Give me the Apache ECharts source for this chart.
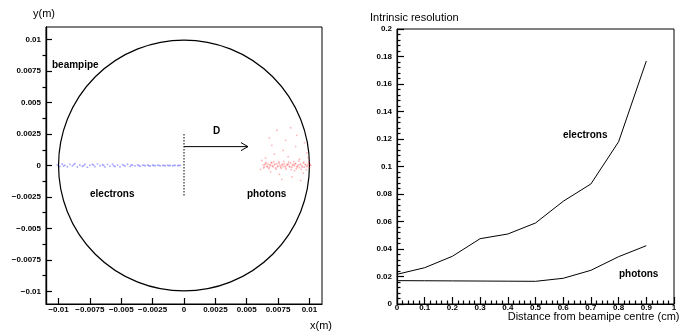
<!DOCTYPE html>
<html><head><meta charset="utf-8">
<script src="https://cdn.jsdelivr.net/npm/echarts@6/dist/echarts.min.js"></script>
<style>html,body{margin:0;padding:0;background:#fff}#c{width:690px;height:332px}</style>
</head><body><div id="c"></div>
<script>
// ---- left panel: beam-pipe cross section (metres) ----
const posTicks = [-0.01,-0.0075,-0.005,-0.0025,0,0.0025,0.005,0.0075,0.01];
const posTickLabels = ['\u22120.01','\u22120.0075','\u22120.005','\u22120.0025','0','0.0025','0.005','0.0075','0.01'];
const posMinorTicks = [-0.00875,-0.00625,-0.00375,-0.00125,0.00125,0.00375,0.00625,0.00875];
const beampipe = [[0,0,0.01]];          // centre x, centre y, radius
const markerD = [[0,0.0015,0.0051]];     // arrow start x, y, end x
const centreLine = [[0,0.0025],[0,-0.0025]];
const electronHits = [
[-0.0101,0.00005],[-0.0099,-0.00008],[-0.0097,0.00012],[-0.0095,0.00001],[-0.0093,-0.0001],[-0.0091,0.00009],
[-0.0089,-0.00003],[-0.0087,0.00014],[-0.0085,-0.00012],[-0.0083,0.00004],[-0.0081,-0.00006],[-0.0079,0.0001],
[-0.0077,-0.00013],[-0.0075,0.00002],[-0.0073,0.00008],[-0.0071,-0.00009],[-0.0069,0.00013],[-0.0067,-0.00002],
[-0.0065,0.00006],[-0.0063,-0.00011],[-0.0061,0.00009],[-0.0059,-0.00005],[-0.0057,0.00011],[-0.0055,-0.00008],
[-0.0053,0.00003],[-0.0051,-0.0001],[-0.0049,0.00007],[-0.0047,-0.00004],[-0.0045,0.0001],[-0.0043,-0.00007],
[-0.0041,0.00002],[-0.0039,-0.00003],[-0.0037,0.00005],[-0.0035,-0.00006],[-0.0033,0.00001],[-0.0031,-0.00002],
[-0.0029,0.00004],[-0.0027,-0.00004],[-0.0025,0.00002],[-0.0023,-0.00001],[-0.0021,0.00003],[-0.0019,-0.00003],
[-0.0017,0.00001],[-0.0015,-0.00002],[-0.0013,0.00002],[-0.0011,0],[-0.0009,-0.00001],[-0.0007,0.00001],
[-0.0005,0],[-0.0003,0.00001],
[-0.0096,-0.00004],[-0.0088,0.00007],[-0.008,-0.00001],[-0.0072,0.00003],[-0.0064,0.00001],[-0.0056,-0.00002],
[-0.0048,0.00001],[-0.0042,0.00004],[-0.0036,0],[-0.0032,0.00003],[-0.0028,-0.00001],[-0.0024,0],
[-0.002,0.00001],[-0.0016,0],[-0.0012,-0.00001],[-0.0008,0],[-0.0004,0]
];
const photonHits = [
[0.0063,0.00005],[0.0064,-0.0001],[0.0065,0.00015],[0.0066,-0.00005],[0.0067,0.0001],[0.0068,-0.00015],
[0.0069,0],[0.007,0.0002],[0.0071,-0.0001],[0.0072,0.00005],[0.0073,-0.0002],[0.0074,0.00012],
[0.0075,-0.00003],[0.0076,0.00018],[0.0077,-0.00012],[0.0078,0.00004],[0.0079,-0.00008],[0.008,0.00014],
[0.0081,-0.00018],[0.0082,0.00002],[0.0083,0.0001],[0.0084,-0.00006],[0.0085,0.0002],[0.0086,-0.00014],
[0.0087,0.00007],[0.0088,-0.00002],[0.0089,0.00016],[0.009,-0.0001],[0.0091,0.00003],[0.0092,-0.00017],
[0.0093,0.00011],[0.0094,-0.00004],[0.0095,0.00019],[0.0096,-0.00012],[0.0097,0.00006],[0.0098,-0.00007],
[0.0099,0.00013],[0.01,-0.00015],[0.0101,0.00002],
[0.00645,0.00008],[0.00665,-0.00012],[0.00685,0.00006],[0.00705,-0.00004],[0.00725,0.00013],[0.00745,-0.00009],
[0.00765,0.00001],[0.00785,0.00011],[0.00805,-0.00005],[0.00825,0.00008],[0.00845,-0.00011],[0.00865,0.00003],
[0.00885,0.00012],[0.00905,-0.00007],[0.00925,0.00005],[0.00945,-0.00013],[0.00965,0.00009],[0.00985,-0.00002],
[0.01005,0.00007],
[0.00635,-0.0002],[0.00655,0.00022],[0.00675,-0.00025],[0.00695,0.00025],[0.00715,0.0003],[0.00735,-0.0003],
[0.00755,0.00028],[0.00775,-0.00022],[0.00795,0.00032],[0.00815,-0.00028],[0.00835,0.00026],[0.00855,-0.00032],
[0.00875,0.0003],[0.00895,-0.00026],[0.00915,0.00034],[0.00935,-0.0003],[0.00955,0.00027],[0.00975,-0.00033],
[0.00995,0.00029],
[0.0065,0.0006],[0.0069,-0.0005],[0.0072,0.0009],[0.0076,-0.0007],[0.0079,0.0012],[0.0083,0.0007],
[0.0086,-0.0009],[0.0089,0.0015],[0.0092,0.0005],[0.0095,-0.0006],[0.0098,0.001],[0.007,0.0016],
[0.0081,0.002],[0.009,0.0024],[0.0096,0.0018],[0.0068,0.0022],[0.0074,0.0028],[0.0085,0.003],
[0.0093,-0.0012],[0.0078,-0.0011],[0.0088,-0.0004],[0.0099,0.0006],[0.0062,0.0004],[0.0061,-0.0003]
];
// ---- right panel: intrinsic resolution ----
const distance = [0,0.1,0.2,0.3,0.4,0.5,0.6,0.7,0.8,0.9];
const resElectrons = [0.0216,0.0264,0.0347,0.0475,0.0509,0.0589,0.0747,0.0873,0.118,0.1767];
const resPhotons = [0.0170,0.0169,0.0168,0.0167,0.0166,0.0165,0.0187,0.0245,0.0344,0.0424];

const FONT = '"Liberation Sans", Arial, Helvetica, sans-serif';
const lblStyle = {color:'#000', fontFamily:FONT, fontSize:8, fontWeight:'bold'};
const posFmt = v => { const i = posTicks.findIndex(t => Math.abs(t - v) < 1e-9); return i >= 0 ? posTickLabels[i] : ''; };
const tickCol = {color:'#000', width:1.2};
const axLine = {show:true, lineStyle:{color:'#000', width:1.2}};
// left-panel axes sit on the zero of a hidden helper axis (0..1), i.e. on the frame edge
const axLineHelper = {show:true, onZero:true, onZeroAxisIndex:2, lineStyle:{color:'#000', width:1.2}};

const chart = echarts.init(document.getElementById('c'));
function txt(x, y, s, size, weight) {
  return {type:'text', x:x, y:y, z:100, style:{text:s, fill:'#000', font:(weight||'normal')+' '+size+'px '+FONT, textVerticalAlign:'middle', textAlign:'left'}};
}
chart.setOption({
  animation:false,
  grid:[
    {left:46, top:27, width:276, height:277, show:true, borderColor:'#000'},
    {left:397, top:29, width:277, height:275, show:true, borderColor:'#000'}
  ],
  xAxis:[
    {type:'value', gridIndex:0, min:-0.011, max:0.011, axisLine:axLineHelper,
     axisTick:{show:true, inside:true, length:6, lineStyle:tickCol, customValues:posTicks},
     axisLabel:{customValues:posTicks, formatter:posFmt, margin:2, ...lblStyle}, splitLine:{show:false}},
    {type:'value', gridIndex:1, min:0, max:1, interval:0.1, axisLine:axLine,
     axisTick:{show:true, inside:true, length:7, lineStyle:tickCol},
     minorTick:{show:true, splitNumber:5, length:3.5, lineStyle:tickCol},
     axisLabel:{margin:0, formatter:v => (Math.round(v*10)/10).toString(), ...lblStyle}, splitLine:{show:false}},
    {type:'value', gridIndex:0, min:0, max:1, show:false}
  ],
  yAxis:[
    {type:'value', gridIndex:0, min:-0.011, max:0.011, axisLine:axLineHelper,
     axisTick:{show:true, inside:true, length:6, lineStyle:tickCol, customValues:posTicks},
     axisLabel:{customValues:posTicks, formatter:posFmt, margin:5, ...lblStyle}, splitLine:{show:false}},
    {type:'value', gridIndex:0, min:-0.011, max:0.011, axisLine:axLineHelper,
     axisTick:{show:true, inside:true, length:3.5, lineStyle:tickCol, customValues:posMinorTicks},
     axisLabel:{show:false}, splitLine:{show:false}},
    {type:'value', gridIndex:0, min:0, max:1, show:false},
    {type:'value', gridIndex:1, min:0, max:0.2, interval:0.02, axisLine:axLine,
     axisTick:{show:true, inside:true, length:7, lineStyle:tickCol},
     minorTick:{show:true, splitNumber:5, length:3.5, lineStyle:tickCol},
     axisLabel:{margin:5, formatter:v => (Math.round(v*100)/100).toString(), ...lblStyle}, splitLine:{show:false}}
  ],
  series:[
    {type:'custom', xAxisIndex:0, yAxisIndex:0, data:beampipe, encode:{x:0, y:1}, silent:true,
     renderItem:(p, api) => { const c = api.coord([api.value(0), api.value(1)]); const r = api.size([api.value(2), 0])[0];
       return {type:'circle', shape:{cx:c[0], cy:c[1], r:r}, style:{fill:null, stroke:'#000', lineWidth:1.2}}; }},
    {type:'scatter', xAxisIndex:0, yAxisIndex:0, data:electronHits, symbolSize:1.8, silent:true,
     itemStyle:{color:'#5050ff', opacity:0.5}},
    {type:'scatter', xAxisIndex:0, yAxisIndex:0, data:photonHits, symbolSize:1.8, silent:true,
     itemStyle:{color:'#ff2a2a', opacity:0.35}},
    {type:'line', xAxisIndex:0, yAxisIndex:0, data:centreLine, symbol:'none', silent:true,
     lineStyle:{color:'#000', width:1, type:[1.5,1.5]}},
    {type:'custom', xAxisIndex:0, yAxisIndex:0, data:markerD, encode:{x:[0,2], y:1}, silent:true,
     renderItem:(p, api) => { const a = api.coord([api.value(0), api.value(1)]); const b = api.coord([api.value(2), api.value(1)]);
       return {type:'group', children:[
         {type:'line', shape:{x1:a[0], y1:a[1], x2:b[0], y2:b[1]}, style:{stroke:'#000', lineWidth:1}},
         {type:'polyline', shape:{points:[[b[0]-7, b[1]-4], [b[0], b[1]], [b[0]-7, b[1]+4]]}, style:{stroke:'#000', fill:null, lineWidth:1}}
       ]}; }},
    {type:'line', xAxisIndex:1, yAxisIndex:3, data:distance.map((d, i) => [d, resElectrons[i]]), symbol:'none', silent:true,
     lineStyle:{color:'#000', width:1}},
    {type:'line', xAxisIndex:1, yAxisIndex:3, data:distance.map((d, i) => [d, resPhotons[i]]), symbol:'none', silent:true,
     lineStyle:{color:'#000', width:1}}
  ],
  graphic:[
    txt(33, 13.5, 'y(m)', 11, 'normal'),
    txt(310, 325.5, 'x(m)', 11, 'normal'),
    txt(52, 65, 'beampipe', 10, 'bold'),
    txt(213, 131.5, 'D', 10, 'bold'),
    txt(90, 194.3, 'electrons', 10, 'bold'),
    txt(247, 194.3, 'photons', 10, 'bold'),
    txt(370, 18, 'Intrinsic resolution', 11, 'normal'),
    txt(563, 135.5, 'electrons', 10, 'bold'),
    txt(619, 274, 'photons', 10, 'bold'),
    txt(507.7, 317, 'Distance from beamipe centre (cm)', 11, 'normal')
  ]
});
</script></body></html>
